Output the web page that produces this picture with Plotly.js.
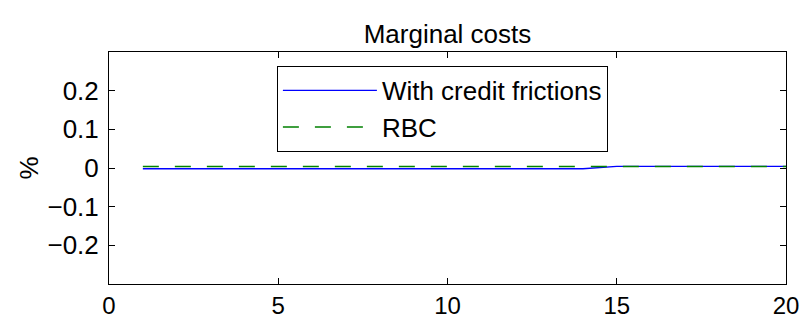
<!DOCTYPE html>
<html>
<head>
<meta charset="utf-8">
<script src="https://cdn.plot.ly/plotly-3.0.1.min.js"></script>
<style>html,body{margin:0;padding:0;background:#fff;}#chart{width:805px;height:319px;}</style>
</head>
<body>
<div id="chart"></div>
<script>
const periods = [1,2,3,4,5,6,7,8,9,10,11,12,13,14,15,16,17,18,19,20];
const withCreditFrictions = [-0.002,-0.002,-0.002,-0.002,-0.002,-0.002,-0.002,-0.002,-0.002,-0.002,-0.002,-0.002,-0.002,-0.002,0.004,0.004,0.004,0.004,0.004,0.004];
const rbc = [0.004,0.004,0.004,0.004,0.004,0.004,0.004,0.004,0.004,0.004,0.004,0.004,0.004,0.004,0.004,0.004,0.004,0.004,0.004,0.004];
const xTicks = [0,5,10,15,20];
const yTicks = [-0.2,-0.1,0,0.1,0.2];
const yTickText = ['\u22120.2','\u22120.1','0','0.1','0.2'];
const seriesNames = ['With credit frictions','RBC'];

const FONT = 'Liberation Sans, Arial, Helvetica, sans-serif';

const traces = [
  {x: periods, y: withCreditFrictions, name: seriesNames[0], type: 'scatter', mode: 'lines',
   line: {color: '#0000ff', width: 1.3}},
  {x: periods, y: rbc, name: seriesNames[1], type: 'scatter', mode: 'lines',
   line: {color: '#008000', width: 1.5, dash: '16px,16px'}}
];

const axisCommon = {
  showgrid: false, zeroline: false, showline: true, linecolor: '#000', linewidth: 1,
  mirror: 'ticks', ticks: 'inside', ticklen: 6, tickcolor: '#000', tickwidth: 1,
  tickfont: {family: FONT, size: 26, color: '#000'}
};

const layout = {
  width: 805, height: 319,
  margin: {l: 109, r: 19, t: 52, b: 35},
  paper_bgcolor: '#fff', plot_bgcolor: '#fff',
  font: {family: FONT, color: '#000'},
  title: {text: 'Marginal costs', font: {family: FONT, size: 26, color: '#000'},
          x: 0.5, xref: 'paper', xanchor: 'center', y: 0.895, yanchor: 'middle', yref: 'container'},
  xaxis: Object.assign({}, axisCommon, {range: [0, 20], tickvals: xTicks, ticktext: xTicks.map(String), ticklabelstandoff: 0,
          tickfont: {family: FONT, size: 24, color: '#000'}}),
  yaxis: Object.assign({}, axisCommon, {range: [-0.3, 0.3], tickvals: yTicks, ticktext: yTickText, ticklabelstandoff: 4,
          title: {text: '%', font: {family: FONT, size: 26, color: '#000'}, standoff: 1}}),
  showlegend: true,
  legend: {x: 0.248, y: 0.94, xanchor: 'left', yanchor: 'top', bgcolor: '#fff',
           bordercolor: '#000', borderwidth: 1, font: {family: FONT, size: 26, color: '#000'},
           itemwidth: 94, tracegroupgap: 0}
};

Plotly.newPlot('chart', traces, layout, {displayModeBar: false, staticPlot: true});
</script>
</body>
</html>
